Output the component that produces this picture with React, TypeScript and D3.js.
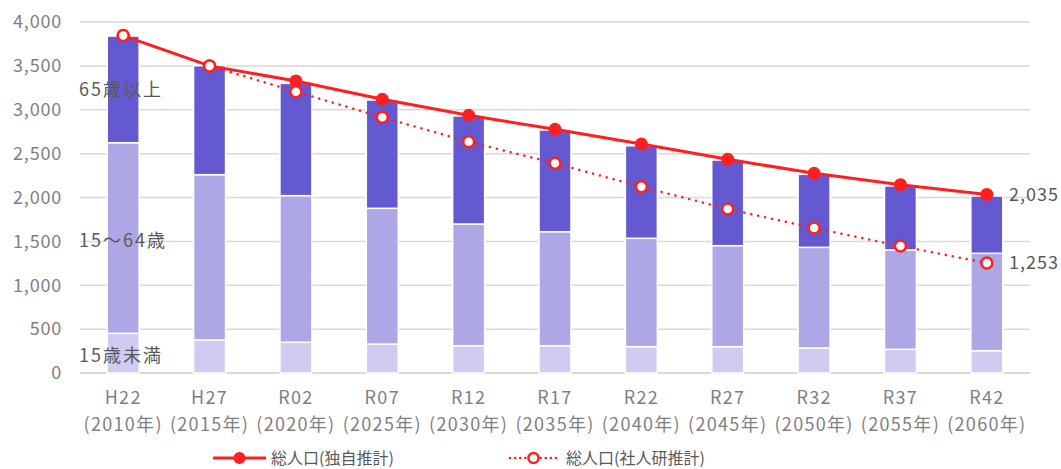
import * as d3 from 'd3';
import React from 'react';

const eras = ['H22', 'H27', 'R02', 'R07', 'R12', 'R17', 'R22', 'R27', 'R32', 'R37', 'R42'];
const years = ['(2010年)', '(2015年)', '(2020年)', '(2025年)', '(2030年)', '(2035年)', '(2040年)', '(2045年)', '(2050年)', '(2055年)', '(2060年)'];

// 年齢3区分（棒）
const under15 = [452, 376, 350, 330, 311, 311, 300, 300, 285, 270, 254];
const age15to64 = [2172, 1884, 1671, 1547, 1387, 1299, 1235, 1151, 1147, 1132, 1110];
const over65 = [1216, 1242, 1280, 1234, 1231, 1159, 1055, 976, 832, 729, 653];

// 総人口（折れ線）
const totalOwn = [3845, 3500, 3328, 3119, 2937, 2777, 2610, 2435, 2276, 2146, 2035];
const totalIpss = [3845, 3500, 3206, 2914, 2636, 2390, 2123, 1869, 1652, 1447, 1253];

const yTicks = [0, 500, 1000, 1500, 2000, 2500, 3000, 3500, 4000];
const ageLabels = ['15歳未満', '15～64歳', '65歳以上'];
const legendLabels = ['総人口(独自推計)', '総人口(社人研推計)'];

const colors = ['#d0cbf1', '#aea7e6', '#6459d0'];
const red = '#ff1f1f';
const font = '"Noto Sans CJK JP", "Noto Sans", sans-serif';

const App = () => {
  const width = 1061, height = 469;
  const left = 80, right = 1030, top = 22, bottom = 373;

  const x = d3.scaleBand().domain(eras).range([left, right]).paddingInner(0.63).paddingOuter(0.315);
  const y = d3.scaleLinear().domain([0, 4000]).range([bottom, top]);
  const cx = (i) => x(eras[i]) + x.bandwidth() / 2;

  const table = eras.map((e, i) => ({ era: e, a: under15[i], b: age15to64[i], c: over65[i] }));
  const stacked = d3.stack().keys(['a', 'b', 'c'])(table);

  const line = d3.line().x((d, i) => cx(i)).y(d => y(d));

  return (
    <svg width={width} height={height} style={{ position: 'absolute', left: 0, top: 0, fontFamily: font }}>
      <rect width={width} height={height} fill="#fff" />
      {yTicks.map(t => (
        <g key={t}>
          <line x1={left} x2={right} y1={y(t)} y2={y(t)} stroke="#d9d9d9" strokeWidth={t === 0 ? 2 : 1.5} />
          <text x={62} y={y(t)} dy="0.35em" textAnchor="end" fontSize={18} letterSpacing={0.8} fill="#7f7f7f">{d3.format(',')(t)}</text>
        </g>
      ))}
      {stacked.map((s, k) => (
        <g key={k} fill={colors[k]}>
          {s.map((d, i) => (
            <rect key={i} x={x(eras[i])} width={x.bandwidth()} y={y(d[1])} height={y(d[0]) - y(d[1])}
              stroke="#fff" strokeWidth={1.5} />
          ))}
        </g>
      ))}
      {eras.map((e, i) => (
        <g key={e} fontSize={18} letterSpacing={1.3} fill="#7f7f7f" textAnchor="middle">
          <text x={cx(i)} y={398} dy="0.35em">{e}</text>
          <text x={cx(i)} y={425} dy="0.35em">{years[i]}</text>
        </g>
      ))}
      <g fontSize={18} letterSpacing={2} fill="#595959">
        <text x={79} y={356} dy="0.35em">{ageLabels[0]}</text>
        <text x={79} y={241} dy="0.35em">{ageLabels[1]}</text>
        <text x={79} y={90} dy="0.35em">{ageLabels[2]}</text>
      </g>

      <path d={line(totalOwn)} fill="none" stroke={red} strokeWidth={3} />
      {totalOwn.map((v, i) => <circle key={i} cx={cx(i)} cy={y(v)} r={6.5} fill={red} />)}
      <path d={line(totalIpss)} fill="none" stroke={red} strokeWidth={2.5} strokeDasharray="0.1,7" strokeLinecap="round" />
      {totalIpss.map((v, i) => <circle key={i} cx={cx(i)} cy={y(v)} r={5.5} fill="#fff" stroke={red} strokeWidth={2.5} />)}

      <g fontSize={18} letterSpacing={1} fill="#595959">
        <text x={1009} y={y(totalOwn[10])} dy="0.35em">{d3.format(',')(totalOwn[10])}</text>
        <text x={1009} y={y(totalIpss[10])} dy="0.35em">{d3.format(',')(totalIpss[10])}</text>
      </g>

      <g fontSize={16} fill="#595959">
        <line x1={213} x2={266} y1={458} y2={458} stroke={red} strokeWidth={3} />
        <circle cx={239.5} cy={458} r={6} fill={red} />
        <text x={271} y={458} dy="0.35em">{legendLabels[0]}</text>
        <line x1={510} x2={557} y1={458} y2={458} stroke={red} strokeWidth={2.5} strokeDasharray="0.1,5" strokeLinecap="round" />
        <circle cx={533.5} cy={458} r={5} fill="#fff" stroke={red} strokeWidth={2.5} />
        <text x={566} y={458} dy="0.35em">{legendLabels[1]}</text>
      </g>
    </svg>
  );
};

export default App;
